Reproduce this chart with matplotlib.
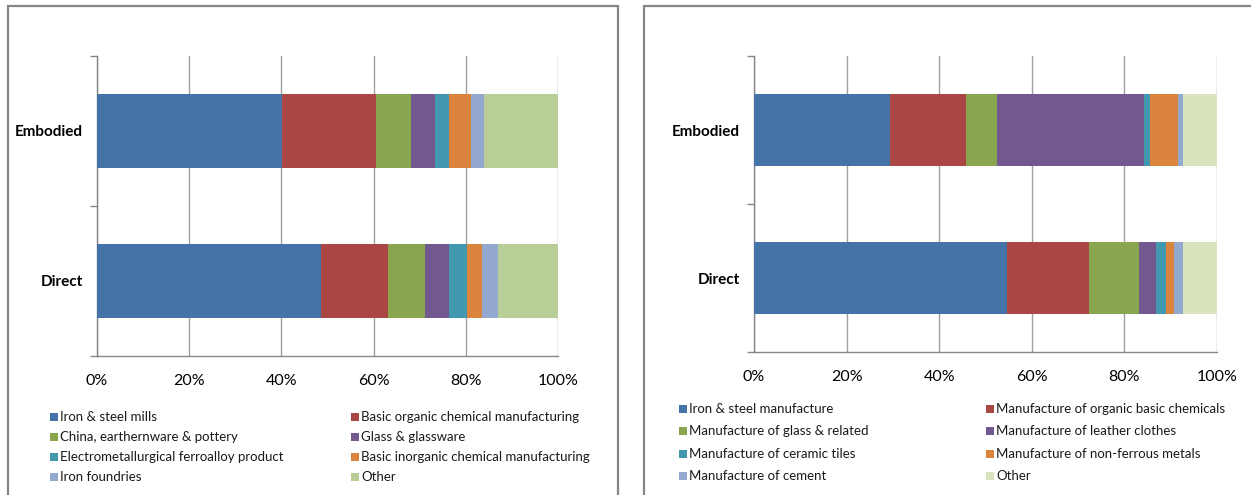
import matplotlib
matplotlib.use("Agg")
import matplotlib.pyplot as plt
from matplotlib.patches import Rectangle
import numpy as np

plt.rcParams['font.family'] = ['Lato', 'DejaVu Sans']

categories = ["Direct", "Embodied"]

left_labels = ["Iron & steel mills", "Basic organic chemical manufacturing",
               "China, earthernware & pottery", "Glass & glassware",
               "Electrometallurgical ferroalloy product", "Basic inorganic chemical manufacturing",
               "Iron foundries", "Other"]
# shares in % for [Direct, Embodied]
left_values = [
    [48.6, 40.1],
    [14.5, 20.4],
    [8.0, 7.6],
    [5.3, 5.2],
    [3.9, 3.1],
    [3.3, 4.8],
    [3.4, 2.7],
    [13.0, 16.1],
]

right_labels = ["Iron & steel manufacture", "Manufacture of organic basic chemicals",
                "Manufacture of glass & related", "Manufacture of leather clothes",
                "Manufacture of ceramic tiles", "Manufacture of non-ferrous metals",
                "Manufacture of cement", "Other"]
right_values = [
    [54.6, 29.4],
    [17.8, 16.4],
    [10.8, 6.6],
    [3.6, 31.8],
    [2.1, 1.3],
    [1.8, 6.0],
    [1.9, 1.1],
    [7.4, 7.4],
]

xticks = [0, 20, 40, 60, 80, 100]
xticklabels = ["0%", "20%", "40%", "60%", "80%", "100%"]

left_colors = ["#4572A7", "#AA4643", "#89A54E", "#71588F", "#4198AF", "#DB843D", "#93A9CF", "#B9CD96"]
right_colors = ["#4572A7", "#AA4643", "#89A54E", "#71588F", "#4198AF", "#DB843D", "#93A9CF", "#D7E4BD"]

W, H = 1251, 495
fig = plt.figure(figsize=(W / 100, H / 100), dpi=100)

def fx(px):
    return px / W

def fy(py):
    return 1 - py / H

# panel borders
for (x0, y0, x1, y1) in [(8, 6, 618, 520), (644, 6, 1280, 520)]:
    fig.patches.append(Rectangle((fx(x0), fy(y1)), fx(x1 - x0), (y1 - y0) / H,
                                 transform=fig.transFigure, fill=False,
                                 edgecolor="#868686", linewidth=1.6, zorder=0))

def draw_panel(rect, labels, values, colors, legend_cols_x, legend_rows_y):
    ax = fig.add_axes(rect)
    y = np.arange(len(categories))
    left = np.zeros(len(categories))
    for lab, vals, col in zip(labels, values, colors):
        v = np.array(vals)
        ax.barh(y, v, left=left, height=0.49, color=col, label=lab, linewidth=0, zorder=3)
        left += v
    ax.set_xlim(0, 100)
    ax.set_ylim(-0.5, 1.5)
    ax.set_xticks(xticks)
    ax.set_xticklabels(xticklabels, fontsize=11.5, color="#000000")
    ax.tick_params(axis="x", length=0, pad=13)
    ax.set_xticks([0], minor=True)
    ax.tick_params(axis="x", which="minor", length=5, color="#868686", width=1)
    ax.set_yticks(y)
    ax.set_yticklabels(categories, fontsize=11, fontweight="bold")
    ax.tick_params(axis="y", which="major", length=0, pad=10)
    ax.set_yticks([-0.5, 0.5, 1.5], minor=True)
    ax.tick_params(axis="y", which="minor", length=5, color="#868686", width=1, direction="out")
    ax.grid(axis="x", color="#A0A0A0", linewidth=1, zorder=0)
    for s in ["top", "right"]:
        ax.spines[s].set_visible(False)
    for s in ["left", "bottom"]:
        ax.spines[s].set_color("#868686")
        ax.spines[s].set_linewidth(1)
    ax.set_axisbelow(True)
    # legend (row-wise ordering like the original)
    for i, (lab, col) in enumerate(zip(labels, colors)):
        cx = legend_cols_x[i % 2]
        cy = legend_rows_y[i // 2]
        fig.patches.append(Rectangle((fx(cx - 4), fy(cy + 4)), fx(8), 8 / H,
                                     transform=fig.transFigure, facecolor=col,
                                     edgecolor="none"))
        fig.text(fx(cx + 6), fy(cy), lab, fontsize=9.5, va="center", ha="left",
                 color="#1a1a1a")
    return ax

draw_panel([fx(97), fy(356), fx(461), 300 / H], left_labels, left_values, left_colors,
           [54, 355], [417, 437, 457, 477])
draw_panel([fx(754), fy(352), fx(463), 296 / H], right_labels, right_values, right_colors,
           [683, 990], [409, 431, 454, 476])

fig.savefig("out.png", dpi=100, facecolor="white")
